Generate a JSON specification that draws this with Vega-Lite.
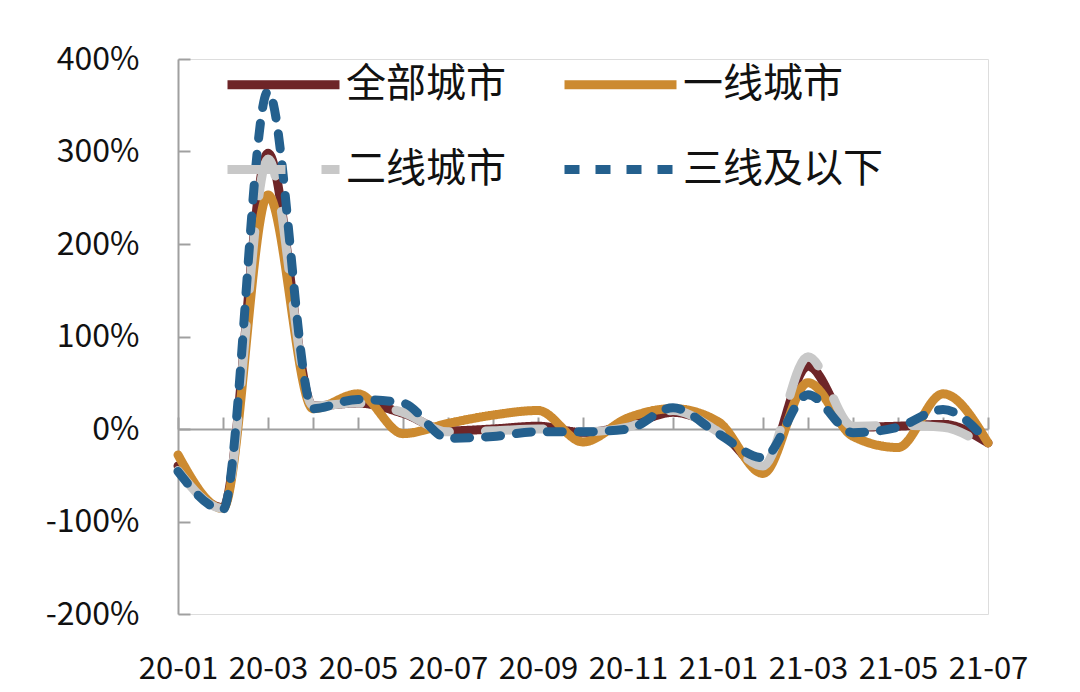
{
  "$schema": "https://vega.github.io/schema/vega-lite/v6.json",
  "width": 810,
  "height": 555,
  "autosize": {"type": "none"},
  "padding": {"left": 178, "top": 59, "right": 92, "bottom": 78},
  "background": "white",
  "data": {
    "values": [
      {"m": "20-01", "全部城市": -40, "一线城市": -28, "二线城市": -45, "三线及以下": -46},
      {"m": "20-02", "全部城市": -85, "一线城市": -86, "二线城市": -86, "三线及以下": -87},
      {"m": "20-03", "全部城市": 298, "一线城市": 253, "二线城市": 292, "三线及以下": 365},
      {"m": "20-04", "全部城市": 25, "一线城市": 22, "二线城市": 25, "三线及以下": 22},
      {"m": "20-05", "全部城市": 28, "一线城市": 38, "二线城市": 28, "三线及以下": 32},
      {"m": "20-06", "全部城市": 17, "一线城市": -5, "二线城市": 18, "三线及以下": 28},
      {"m": "20-07", "全部城市": -2, "一线城市": 6, "二线城市": -3, "三线及以下": -10},
      {"m": "20-08", "全部城市": 0, "一线城市": 15, "二线城市": -2, "三线及以下": -8},
      {"m": "20-09", "全部城市": 3, "一线城市": 20, "二线城市": 0, "三线及以下": -3},
      {"m": "20-10", "全部城市": -4, "一线城市": -14, "二线城市": -3, "三线及以下": -3},
      {"m": "20-11", "全部城市": 4, "一线城市": 12, "二线城市": 2, "三线及以下": 0},
      {"m": "20-12", "全部城市": 18, "一线城市": 22, "二线城市": 20, "三线及以下": 23},
      {"m": "21-01", "全部城市": 0, "一线城市": 8, "二线城市": -3, "三线及以下": -5},
      {"m": "21-02", "全部城市": -42, "一线城市": -48, "二线城市": -40, "三线及以下": -31},
      {"m": "21-03", "全部城市": 68, "一线城市": 50, "二线城市": 78, "三线及以下": 37},
      {"m": "21-04", "全部城市": 2, "一线城市": -8, "二线城市": 3, "三线及以下": -4},
      {"m": "21-05", "全部城市": 3, "一线城市": -20, "二线城市": 4, "三线及以下": 2},
      {"m": "21-06", "全部城市": 5, "一线城市": 38, "二线城市": 2, "三线及以下": 21},
      {"m": "21-07", "全部城市": -15, "一线城市": -15, "二线城市": -21, "三线及以下": -14}
    ]
  },
  "transform": [
    {"fold": ["全部城市", "一线城市", "二线城市", "三线及以下"], "as": ["series", "value"]}
  ],
  "mark": {"type": "line", "interpolate": "monotone", "strokeWidth": 9, "strokeCap": "round"},
  "encoding": {
    "x": {
      "field": "m",
      "type": "ordinal",
      "sort": null,
      "scale": {"type": "point", "padding": 0},
      "axis": {
        "title": null,
        "orient": "bottom",
        "offset": -185,
        "domainColor": "#a0a0a0",
        "domainWidth": 2,
        "tickColor": "#a0a0a0",
        "tickWidth": 2,
        "tickSize": -12,
        "labelPadding": 237,
        "labelAngle": 0,
        "labelOverlap": false,
        "labelFont": "Noto Sans CJK SC",
        "labelFontSize": 31,
        "labelColor": "#111111",
        "labelExpr": "indexof(['20-01','20-03','20-05','20-07','20-09','20-11','21-01','21-03','21-05','21-07'], datum.value) >= 0 ? datum.value : ''"
      }
    },
    "y": {
      "field": "value",
      "type": "quantitative",
      "scale": {"domain": [-200, 400], "nice": false},
      "axis": {
        "title": null,
        "grid": false,
        "values": [-200, -100, 0, 100, 200, 300, 400],
        "labelExpr": "datum.value + '%'",
        "domainColor": "#a0a0a0",
        "domainWidth": 2,
        "tickColor": "#a0a0a0",
        "tickWidth": 2,
        "tickSize": -12,
        "labelPadding": 51,
        "labelFont": "Noto Sans CJK SC",
        "labelFontSize": 32,
        "labelColor": "#111111"
      }
    },
    "color": {
      "field": "series",
      "type": "nominal",
      "scale": {
        "domain": ["全部城市", "一线城市", "二线城市", "三线及以下"],
        "range": ["#6e2528", "#cc8a30", "#c8c8c8", "#24608e"]
      },
      "legend": {
        "orient": "none",
        "direction": "horizontal",
        "legendX": 45,
        "legendY": -35,
        "columns": 2,
        "title": null,
        "padding": 0,
        "symbolType": "stroke",
        "symbolSize": 12544,
        "symbolStrokeWidth": 9,
        "symbolOffset": 0,
        "labelFont": "Noto Sans CJK SC",
        "labelFontSize": 40,
        "labelColor": "#111111",
        "labelOffset": 2,
        "labelLimit": 0,
        "rowPadding": 4,
        "columnPadding": 40,
        "encoding": {"symbols": {"update": {"strokeCap": {"value": "round"}}}}
      }
    },
    "strokeDash": {
      "field": "series",
      "type": "nominal",
      "scale": {
        "domain": ["全部城市", "一线城市", "二线城市", "三线及以下"],
        "range": [[1, 0], [1, 0], [58, 36], [15, 16]]
      }
    }
  }
}
